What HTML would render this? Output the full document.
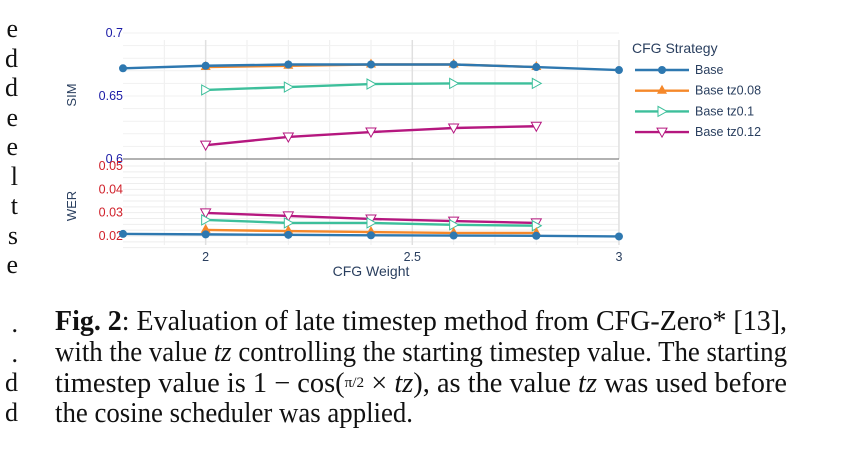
<!DOCTYPE html>
<html><head><meta charset="utf-8"><style>
body{margin:0;background:#fff;width:843px;height:459px;overflow:hidden;position:relative;font-family:"Liberation Sans",sans-serif}
#cap{position:absolute;left:55px;top:307px;width:732px;font-family:"Liberation Serif",serif;font-size:28px;color:#111}
#cap .ln{white-space:nowrap;height:30.5px;line-height:30.5px;transform-origin:0 50%;display:block;width:max-content}
#cap i{font-style:italic}
#strip{position:absolute;left:0;top:14px;width:18px;font-family:"Liberation Serif",serif;font-size:26px;line-height:29.5px;color:#111;overflow:hidden;text-align:right}
</style></head><body>
<div id="strip">e<br>d<br>d<br>e<br>e<br>l<br>t<br>s<br>e<br><br>.<br>.<br>d<br>d</div>
<svg id="chart" width="843" height="290" style="position:absolute;left:0;top:0"></svg>
<div id="cap">
<span class="ln" data-w="732"><b>Fig. 2</b>: Evaluation of late timestep method from CFG-Zero* [13],</span>
<span class="ln" data-w="732">with the value <i>tz</i> controlling the starting timestep value. The starting</span>
<span class="ln" data-w="732">timestep value is 1 − cos(<span style="font-size:15px;vertical-align:5px">π/2</span> × <i>tz</i>), as the value <i>tz</i> was used before</span>
<span class="ln" data-w="358">the cosine scheduler was applied.</span>
</div>
<script>
const xCats=[1.8,2,2.2,2.4,2.6,2.8,3];
const seriesNames=["Base","Base tz0.08","Base tz0.1","Base tz0.12"];
const baseX=[1.8,2,2.2,2.4,2.6,2.8,3];
const tzX=[2,2.2,2.4,2.6,2.8];
const simBase=[0.672,0.674,0.675,0.675,0.675,0.673,0.6706];
const simTz08=[0.673,0.674,0.675,0.675,0.673];
const simTz10=[0.6548,0.6571,0.6595,0.660,0.660];
const simTz12=[0.611,0.6175,0.6214,0.6246,0.626];
const werBase=[0.0209,0.0207,0.0205,0.0203,0.0202,0.0201,0.0198];
const werTz08=[0.0226,0.0221,0.0217,0.0213,0.0213];
const werTz10=[0.0269,0.0256,0.0256,0.0248,0.0244];
const werTz12=[0.0299,0.0286,0.0273,0.0264,0.0256];
const xTicks=[2,2.5,3];
const simTicks=[0.6,0.65,0.7];
const werTicks=[0.02,0.03,0.04,0.05];

document.querySelectorAll('#cap .ln').forEach(l=>{const w=l.getBoundingClientRect().width;l.style.transform='scaleX('+(+l.dataset.w/w)+')';});
const svg=document.getElementById('chart');const NS="http://www.w3.org/2000/svg";
function el(t,a,p){const e=document.createElementNS(NS,t);for(const k in a)e.setAttribute(k,a[k]);(p||svg).appendChild(e);return e;}
const X=v=>123+(v-1.8)*413.3;
const Ys=v=>159-(v-0.6)*1260;
const Yw=v=>236-(v-0.02)*2333;
for(let v=1.9;v<3.01;v+=0.1){const g=el('line',{x1:X(v),x2:X(v),y1:40,y2:159,stroke:'#eee'});
 const g2=el('line',{x1:X(v),x2:X(v),y1:162,y2:245,stroke:'#eee'});}
for(let v=0.61;v<0.705;v+=0.01){const g=el('line',{x1:123,x2:619,y1:Ys(v),y2:Ys(v),stroke:'#f1f1f1'});}
for(let v=0.015;v<0.0525;v+=0.0025){const g=el('line',{x1:123,x2:619,y1:Yw(v),y2:Yw(v),stroke:'#eee'});}
xTicks.forEach(v=>{[[40,159],[162,245]].forEach(r=>{const g=el('line',{x1:X(v),x2:X(v),y1:r[0],y2:r[1],stroke:'#e0e0e0','stroke-width':1.5});});
 const t=el('text',{x:X(v),y:261,'text-anchor':'middle','font-size':12.5,fill:'#2a3f5f'});t.textContent=v;});
const sep=el('line',{x1:123,x2:619,y1:159,y2:159,stroke:'#666','stroke-width':1});
simTicks.forEach(v=>{const t=el('text',{x:123,y:Ys(v)+4,'text-anchor':'end','font-size':12.5,fill:'#1a1aa6'});t.textContent=v;});
werTicks.forEach(v=>{const t=el('text',{x:123,y:Yw(v)+4,'text-anchor':'end','font-size':12.5,fill:'#d0202a'});t.textContent=v;});
let t=el('text',{x:76,y:95,'font-size':13,fill:'#2a3f5f','text-anchor':'middle',transform:'rotate(-90 76 95)'});t.textContent='SIM';
t=el('text',{x:76,y:206,'font-size':13,fill:'#2a3f5f','text-anchor':'middle',transform:'rotate(-90 76 206)'});t.textContent='WER';
t=el('text',{x:371,y:276,'font-size':14,fill:'#2a3f5f','text-anchor':'middle'});t.textContent='CFG Weight';
const colors=['#2e78b0','#f5882a','#3dbf9b','#b5177f'];
function marker(k,x,y,g){const c=colors[k];
 if(k===0)return el('circle',{cx:x,cy:y,r:4,fill:c},g);
 if(k===1)return el('path',{d:`M${x},${y-6}L${x+5},${y+3}L${x-5},${y+3}Z`,fill:c},g);
 if(k===2)return el('path',{d:`M${x+5},${y}L${x-4},${y-5}L${x-4},${y+5}Z`,fill:'#fff',stroke:c,'stroke-width':1},g);
 return el('path',{d:`M${x},${y+5}L${x+5},${y-4}L${x-5},${y-4}Z`,fill:'#fff',stroke:c,'stroke-width':1},g);}
function series(k,xs,ys,Y,name){const g=el('g',{});
 el('polyline',{points:xs.map((x,i)=>X(x)+','+Y(ys[i])).join(' '),fill:'none',stroke:colors[k],'stroke-width':2.4},g);
 xs.forEach((x,i)=>{const m=marker(k,X(x),Y(ys[i]),g);});}
series(3,tzX,simTz12,Ys,'sim-tz012-line');series(2,tzX,simTz10,Ys,'sim-tz01-line');series(1,tzX,simTz08,Ys,'sim-tz008-line');series(0,baseX,simBase,Ys,'sim-base-line');
series(3,tzX,werTz12,Yw,'wer-tz012-line');series(2,tzX,werTz10,Yw,'wer-tz01-line');series(1,tzX,werTz08,Yw,'wer-tz008-line');series(0,baseX,werBase,Yw,'wer-base-line');
t=el('text',{x:632,y:53,'font-size':14,fill:'#2a3f5f'});t.textContent='CFG Strategy';
seriesNames.forEach((n,k)=>{const y=70+k*20.7;const g=el('g',{});
 el('line',{x1:635,x2:689,y1:y,y2:y,stroke:colors[k],'stroke-width':2.4},g);marker(k,662,y,g);
 const tx=el('text',{x:695,y:y+4,'font-size':12.5,fill:'#2a3f5f'},g);tx.textContent=n;});
</script>
</body></html>
